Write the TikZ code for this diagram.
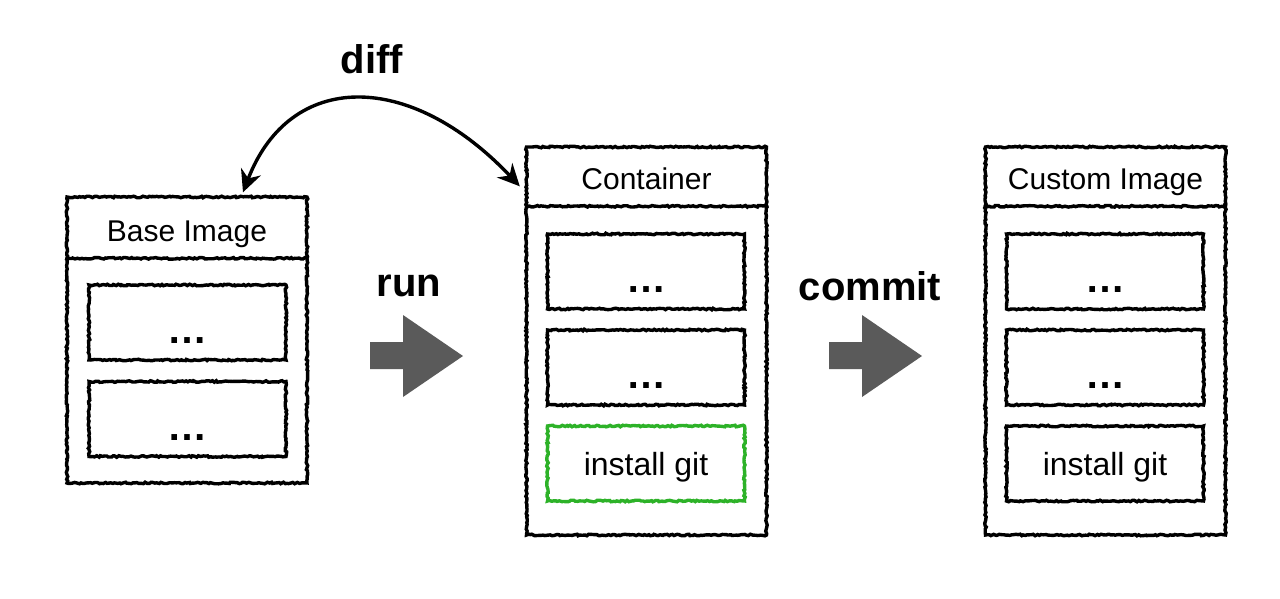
\documentclass[tikz,border=0pt]{standalone}
\usepackage{fontspec}
\setmainfont{Liberation Sans}
\usepackage{xcolor}
\usetikzlibrary{arrows.meta,positioning,calc,decorations.pathmorphing}
\definecolor{gitgreen}{RGB}{45,178,40}
\definecolor{arrowgray}{RGB}{90,90,90}
\tikzset{
  sketch/.style    ={draw,line width=3.4pt,decorate,decoration={random steps,segment length=2pt,amplitude=0.8pt}},
  outerbox/.style  ={sketch,minimum width=240pt,inner sep=0pt},
  layerbox/.style  ={sketch,minimum width=197pt,minimum height=75pt,inner sep=0pt,font=\fontsize{32}{34}\selectfont,text height=29pt,text depth=6pt},
  dotsbox/.style   ={layerbox,font=\fontsize{40}{42}\selectfont\bfseries,text height=42pt,text depth=0pt},
  newlayer/.style  ={draw=gitgreen},
  headtxt/.style   ={font=\fontsize{30}{32}\selectfont,text height=26pt,text depth=6pt},
  verb/.style      ={font=\fontsize{40}{42}\selectfont\bfseries},
  blockarrow/.style={fill=arrowgray},
  diffarrow/.style ={{Stealth[length=22pt,width=21pt]}-{Stealth[length=22pt,width=21pt]},line width=3.4pt},
}

\begin{document}
\begin{tikzpicture}[x=1pt,y=-1pt]
  \useasboundingbox (0,0) rectangle (1280,598);
  % base image
  \node[outerbox,minimum height=286pt](base) at (187,340){};
  \draw[sketch]($(base.north west)+(0,63)$)--($(base.north east)+(0,63)$);
  \node[headtxt](basehead) at (187,231){Base Image};
  \node[dotsbox](b1) at (187.5,322.5){…};
  \node[dotsbox](b2) at (187.5,419){…};
  % container
  \node[outerbox,minimum height=388pt](cont) at (646.5,341){};
  \draw[sketch]($(cont.north west)+(0,61)$)--($(cont.north east)+(0,61)$);
  \node[headtxt](conthead) at (646.5,179){Container};
  \node[dotsbox](c1) at (646,271.5){…};
  \node[dotsbox](c2) at (646,367.5){…};
  \node[layerbox,newlayer](c3) at (646,463.5){install git};
  % custom image
  \node[outerbox,minimum height=388pt](custom) at (1105.5,341){};
  \draw[sketch]($(custom.north west)+(0,61)$)--($(custom.north east)+(0,61)$);
  \node[headtxt](customhead) at (1105.5,179){Custom Image};
  \node[dotsbox](u1) at (1105,271.5){…};
  \node[dotsbox](u2) at (1105,367.5){…};
  \node[layerbox](u3) at (1105,463.5){install git};
  % steps
  \node[verb](run) at (409,286){run};
  \node[verb](commit) at (870,286){commit};
  \node[verb](diff) at (372,59){diff};
  \foreach \x in {370,829}{
    \fill[blockarrow](\x,342)--(\x+33,342)--(\x+33,315)--(\x+93,356)--(\x+33,397)--(\x+33,369)--(\x,369)--cycle;}
  \coordinate(dl) at ($(base.north)+(56,-3)$);
  \coordinate(dr) at ($(cont.north west)+(-5,41)$);
  \draw[diffarrow](dl) .. controls (290,70) and (410,70) .. (dr);
\end{tikzpicture}
\end{document}
